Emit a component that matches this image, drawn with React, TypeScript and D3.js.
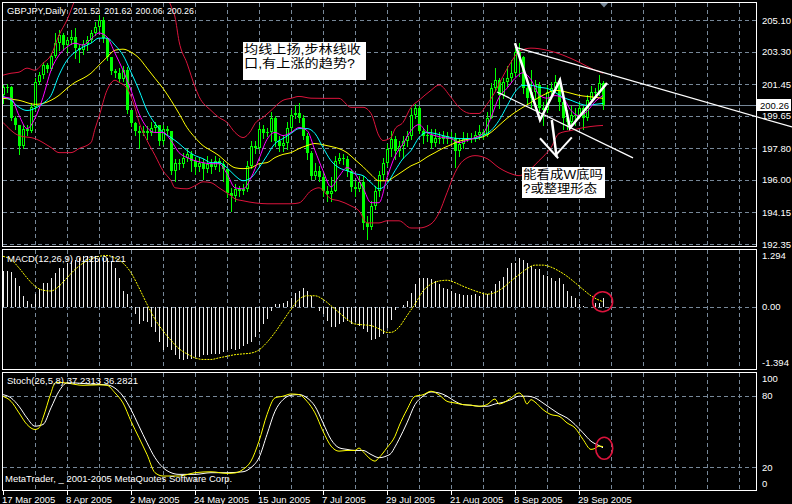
import * as d3 from "d3";

// GBPJPY daily, 17 Mar 2005 .. early Oct 2005 (one value per bar)
const symbolTitle = "GBPJPY,Daily";
const firstOpen = 200.81;
const closes = [
  201.27, 201.27, 199.5, 199.1, 197.95, 198.92, 198.81, 200.13, 201.55, 201.96,
  202.53, 202.3, 203.04, 203.78, 204.24, 203.67, 203.96, 204.13, 203.5, 203.38,
  203.73, 203.96, 204.36, 204.7, 205.1, 204.07, 202.98, 202.18, 202.07, 201.73,
  202.24, 199.95, 199.21, 198.81, 198.64, 198.81, 198.64, 198.98, 199.15, 198.24,
  198.92, 198.81, 196.52, 196.98, 196.92, 197.27, 197.5, 197.09, 196.75, 196.98,
  196.64, 196.92, 196.75, 197.09, 196.92, 196.64, 195.27, 195.09, 195.49, 195.38,
  195.49, 196.81, 197.95, 197.84, 198.92, 198.64, 198.75, 199.5, 198.24, 197.95,
  198.12, 198.98, 199.67, 199.78, 199.5, 198.52, 197.55, 196.24, 196.52, 196.18,
  195.38, 195.21, 195.38, 197.09, 197.27, 197.21, 196.52, 195.61, 195.49, 195.89,
  193.55, 193.32, 194.52, 195.38, 196.29, 196.98, 197.78, 198.35, 197.67, 197.95,
  198.24, 198.52, 199.67, 200.07, 198.81, 198.47, 198.58, 198.12, 198.41, 198.35,
  198.52, 198.35, 198.41, 197.67, 198.07, 198.35, 198.41, 198.41, 198.58, 198.75,
  198.58, 199.55, 201.21, 201.67, 200.81, 201.55, 201.78, 202.07, 203.27, 202.98,
  201.21, 200.64, 200.98, 201.38, 200.07, 199.95, 200.98, 201.21, 201.55, 200.41,
  199.5, 199.27, 199.72, 199.61, 200.07, 199.5, 200.53, 200.98, 200.98, 201.52,
  200.26,
];
const highs = [
  201.38, 201.44, 201.33, 199.61, 199.04, 199.1, 199.15, 200.35, 201.78, 202.13,
  202.7, 202.64, 203.21, 204.36, 204.53, 204.36, 204.13, 204.53, 204.64, 203.67,
  203.96, 204.19, 204.53, 204.99, 205.39, 205.27, 204.07, 202.47, 202.3, 202.36,
  202.47, 202.41, 199.95, 199.27, 199.04, 199.04, 199.04, 199.27, 199.32, 199.15,
  199.15, 199.04, 198.81, 197.21, 197.21, 197.55, 197.78, 197.67, 197.32, 197.27,
  197.21, 197.38, 197.21, 197.38, 197.27, 197.09, 196.52, 195.55, 195.78, 195.67,
  195.78, 197.09, 198.24, 198.24, 199.1, 199.1, 198.98, 199.84, 199.61, 198.47,
  198.52, 199.27, 199.95, 200.24, 200.35, 199.67, 198.64, 197.67, 196.98, 196.81,
  196.52, 195.67, 196.18, 197.38, 197.55, 197.5, 197.38, 196.64, 195.95, 196.24,
  196.24, 193.95, 194.81, 195.67, 196.52, 197.27, 198.07, 198.81, 198.52, 198.24,
  198.52, 198.81, 200.07, 200.3, 200.18, 198.92, 199.1, 198.92, 198.92, 198.7,
  198.81, 198.7, 198.7, 198.64, 198.35, 198.7, 198.64, 198.64, 198.81, 199.1,
  198.92, 199.84, 201.5, 202.36, 201.78, 201.78, 202.47, 202.81, 203.5, 203.78,
  203.04, 201.33, 202.24, 201.67, 201.55, 200.41, 201.38, 201.55, 201.96, 201.78,
  200.53, 199.95, 200.18, 200.07, 200.41, 200.18, 200.81, 201.33, 201.21, 201.96,
  201.62,
];
const lows = [
  200.35, 200.98, 199.38, 198.92, 197.5, 197.84, 198.58, 198.75, 199.95, 201.44,
  201.78, 202.13, 202.24, 202.98, 203.38, 203.38, 203.27, 203.73, 202.93, 202.7,
  203.16, 203.38, 203.84, 204.24, 204.53, 203.84, 202.81, 202.01, 201.84, 201.55,
  201.61, 199.78, 199.04, 198.58, 197.84, 198.58, 198.35, 198.58, 198.7, 198.01,
  198.07, 198.58, 196.35, 195.95, 196.64, 196.75, 197.09, 196.52, 196.35, 196.52,
  196.07, 196.47, 196.41, 196.64, 196.52, 195.95, 195.04, 194.24, 194.81, 195.09,
  195.21, 195.38, 196.69, 197.55, 197.78, 198.41, 198.52, 198.24, 197.95, 197.67,
  197.67, 197.78, 198.81, 199.5, 199.27, 198.35, 197.21, 196.07, 196.07, 195.95,
  195.09, 194.81, 194.81, 195.38, 196.98, 196.92, 196.24, 195.38, 195.09, 195.38,
  193.21, 192.63, 193.21, 194.35, 195.09, 196.07, 196.81, 197.38, 197.21, 197.38,
  197.27, 197.95, 198.35, 199.5, 198.64, 198.12, 198.24, 197.84, 197.95, 198.12,
  198.12, 198.12, 198.18, 196.75, 197.38, 197.84, 198.24, 198.18, 198.24, 198.35,
  198.35, 198.47, 199.5, 201.1, 200.07, 200.64, 201.33, 201.55, 201.96, 201.9,
  200.93, 200.35, 200.07, 200.64, 199.84, 199.1, 199.84, 200.81, 200.98, 199.95,
  198.92, 198.92, 199.04, 199.1, 199.5, 198.92, 199.38, 200.41, 200.75, 200.81,
  200.06,
];

// moving averages and Bollinger bands, sampled as [bar, price]
const maFast: [number, number][] = [
  [0, 200.71], [2, 200.64], [4, 199.67], [6, 198.92], [8, 199.5], [10, 200.7], [12, 202.24], [14, 203.1],
  [16, 203.56], [18, 203.78], [20, 203.67], [22, 204.01], [24, 204.36], [26, 204.13], [28, 203.21], [30, 202.24],
  [32, 201.1], [34, 199.78], [36, 198.98], [38, 198.7], [40, 198.7], [42, 198.24], [44, 197.55], [46, 197.27],
  [48, 197.09], [50, 196.98], [52, 196.92], [54, 196.92], [56, 196.35], [58, 195.55], [60, 195.49], [62, 196.12],
  [64, 197.2], [66, 198.3], [68, 198.7], [70, 198.52], [72, 198.7], [74, 198.98], [76, 198.81], [78, 197.67],
  [80, 196.52], [82, 195.6], [84, 196.2], [86, 196.7], [88, 196.35], [90, 195.55], [92, 194.7], [94, 194.7],
  [96, 196.12], [98, 197.35], [100, 198.05], [102, 198.81], [104, 199.15], [106, 198.7], [108, 198.52], [110, 198.41],
  [112, 198.35], [114, 198.12], [116, 198.24], [118, 198.41], [120, 198.64], [122, 199.55], [124, 200.7], [126, 201.21],
  [128, 201.78], [130, 202.1], [132, 201.7], [134, 200.85], [136, 200.65], [138, 200.8], [140, 200.65], [142, 199.95],
  [144, 199.65], [146, 199.9], [148, 200.45], [150, 200.81],
];
const maMid: [number, number][] = [
  [0, 200.75], [2, 200.53], [4, 200.13], [6, 199.95], [8, 200.07], [10, 200.35], [12, 200.81], [14, 201.96],
  [16, 202.81], [18, 203.27], [20, 203.56], [22, 203.78], [24, 204.07], [26, 204.07], [28, 203.67], [30, 203.1],
  [32, 202.13], [34, 201.1], [36, 199.95], [38, 199.21], [40, 198.7], [42, 198.41], [44, 198.07], [46, 197.67],
  [48, 197.38], [50, 197.21], [52, 196.98], [54, 196.98], [56, 196.69], [58, 196.24], [60, 195.95], [62, 196.12],
  [64, 196.69], [66, 197.38], [68, 198.07], [70, 198.35], [72, 198.64], [74, 198.92], [76, 198.92], [78, 198.64],
  [80, 197.84], [82, 197.09], [84, 196.69], [86, 196.52], [88, 196.35], [90, 196.24], [92, 195.84], [94, 195.49],
  [96, 195.78], [98, 196.52], [100, 197.21], [102, 197.67], [104, 198.41], [106, 198.7], [108, 198.64], [110, 198.52],
  [112, 198.41], [114, 198.35], [116, 198.35], [118, 198.35], [120, 198.52], [122, 198.81], [124, 199.38], [126, 200.2],
  [128, 201.0], [130, 201.38], [132, 201.38], [134, 201.27], [136, 201.21], [138, 200.98], [140, 200.7], [142, 200.53],
  [144, 200.35], [146, 200.24], [148, 200.3], [150, 200.35],
];
const maSlow: [number, number][] = [
  [0, 200.64], [4, 200.53], [8, 200.3], [10, 200.35], [12, 200.53], [14, 200.81], [16, 201.21], [18, 201.55],
  [20, 201.78], [22, 202.07], [24, 202.53], [26, 202.98], [28, 203.38], [30, 203.44], [32, 203.27], [34, 202.93],
  [36, 202.36], [38, 201.78], [40, 201.21], [42, 200.53], [44, 199.78], [46, 198.98], [48, 198.41], [50, 197.95],
  [52, 197.67], [54, 197.38], [56, 196.98], [58, 196.69], [60, 196.64], [62, 196.69], [64, 196.92], [66, 196.98],
  [68, 197.27], [70, 197.45], [72, 197.55], [74, 197.78], [76, 197.95], [78, 198.07], [80, 198.0], [82, 197.9],
  [84, 197.78], [86, 197.55], [88, 197.15], [90, 196.75], [92, 196.3], [94, 195.95], [96, 195.95], [98, 196.2],
  [100, 196.5], [102, 196.8], [104, 197.0], [106, 197.3], [108, 197.55], [110, 197.8], [112, 198.0], [114, 198.2],
  [116, 198.3], [118, 198.35], [120, 198.45], [122, 198.7], [124, 199.1], [126, 199.5], [128, 199.84], [130, 200.13],
  [132, 200.41], [134, 200.7], [136, 200.93], [138, 201.1], [140, 201.04], [142, 200.93], [144, 200.81], [146, 200.75],
  [148, 200.7], [150, 200.64],
];
const bandUpper: [number, number][] = [
  [0, 201.96], [2, 202.07], [4, 202.13], [6, 202.36], [8, 202.24], [10, 202.64], [12, 203.1], [14, 204.24],
  [16, 205.1], [18, 206.24], [20, 207.1], [24, 207.96], [28, 208.5], [32, 208.5], [36, 207.96], [40, 206.82],
  [42, 205.9], [43, 205.27], [44, 203.9], [46, 202.64], [48, 201.3], [49, 200.75], [52, 199.95], [54, 199.55],
  [56, 199.27], [58, 198.7], [60, 198.41], [62, 198.81], [63, 199.21], [65, 199.55], [67, 199.95], [70, 200.53],
  [72, 200.64], [74, 200.75], [77, 200.65], [80, 200.64], [84, 200.64], [87, 200.13], [90, 200.13], [92, 199.78],
  [94, 198.5], [95, 198.24], [97, 198.41], [98, 198.9], [100, 199.27], [102, 200.13], [104, 200.53], [107, 201.1],
  [109, 201.4], [112, 200.7], [114, 200.13], [117, 199.78], [119, 199.78], [121, 200.3], [123, 201.0], [125, 201.9],
  [127, 202.7], [129, 203.3], [132, 203.5], [136, 203.38], [140, 203.1], [144, 202.7], [148, 202.24], [150, 202.07],
];
const bandLower: [number, number][] = [
  [0, 199.27], [4, 198.52], [8, 198.35], [12, 197.84], [14, 197.55], [17, 197.55], [19, 197.78], [22, 198.12],
  [23, 198.9], [24, 199.6], [26, 201.1], [28, 201.67], [29, 201.55], [31, 201.21], [33, 200.1], [34, 199.3],
  [36, 198.24], [38, 197.4], [40, 196.52], [42, 195.95], [43, 195.55], [46, 195.49], [48, 195.67], [50, 195.89],
  [52, 195.84], [54, 195.55], [57, 195.09], [58, 194.92], [60, 194.81], [63, 194.69], [66, 194.64], [69, 194.64],
  [72, 194.64], [74, 194.69], [77, 195.38], [79, 195.55], [82, 194.92], [84, 194.81], [87, 194.52], [89, 194.24],
  [91, 193.55], [94, 193.55], [96, 193.67], [99, 193.67], [102, 193.26], [104, 193.26], [107, 193.49], [109, 194.12],
  [111, 195.27], [113, 196.41], [115, 197.09], [118, 197.38], [121, 197.21], [124, 196.69], [127, 196.35], [129, 196.24],
  [132, 196.64], [134, 197.09], [137, 197.84], [139, 198.64], [142, 198.81], [144, 198.92], [147, 199.04], [150, 199.1],
];

// MACD(12,26,9): main value per bar, signal sampled as [bar, value]
const macdMain = [
  0.89, 0.89, 0.87, 0.72, 0.51, 0.27, 0.14, 0.06, 0.31, 0.43,
  0.6, 0.6, 0.72, 0.85, 0.97, 0.97, 1.09, 1.14, 1.18, 1.22,
  1.26, 1.26, 1.26, 1.26, 1.22, 1.22, 1.22, 1.14, 0.97, 0.72,
  0.39, 0.31, 0.01, -0.19, -0.44, -0.36, -0.4, -0.52, -0.65, -0.9,
  -1.1, -1.02, -1.1, -1.23, -1.31, -1.35, -1.31, -1.31, -1.27, -1.27,
  -1.23, -1.23, -1.19, -1.19, -1.19, -1.14, -1.1, -1.06, -1.1, -1.06,
  -0.98, -0.94, -0.9, -0.77, -0.65, -0.44, -0.32, -0.11, 0.06, 0.06,
  0.1, 0.14, 0.22, 0.35, 0.39, 0.47, 0.39, 0.27, -0.02, -0.11,
  -0.19, -0.36, -0.52, -0.52, -0.44, -0.4, -0.36, -0.44, -0.4, -0.48,
  -0.56, -0.65, -0.85, -0.81, -0.77, -0.69, -0.55, -0.35, -0.1, -0.02,
  0.03, 0.14, 0.35, 0.57, 0.72, 0.72, 0.72, 0.7, 0.64, 0.56,
  0.47, 0.43, 0.39, 0.35, 0.31, 0.29, 0.29, 0.29, 0.31, 0.27,
  0.31, 0.32, 0.39, 0.56, 0.64, 0.75, 0.97, 1.09, 1.09, 1.22,
  1.18, 1.09, 1.01, 0.93, 0.93, 0.79, 0.76, 0.72, 0.64, 0.72,
  0.56, 0.39, 0.27, 0.22, 0.06, 0.02, 0.0, 0.0, 0.1, 0.1,
  0.225,
];
const macdSignal: [number, number][] = [
  [0, 1.26], [2, 1.18], [4, 0.97], [6, 0.72], [8, 0.51], [10, 0.41], [12, 0.39], [14, 0.51], [16, 0.72], [18, 0.93],
  [20, 1.09], [22, 1.2], [24, 1.26], [26, 1.28], [28, 1.22], [30, 1.09], [32, 0.85], [34, 0.47], [36, 0.06], [38, -0.32],
  [40, -0.61], [42, -0.85], [44, -1.06], [46, -1.19], [48, -1.29], [50, -1.33], [52, -1.33], [54, -1.29], [56, -1.25],
  [58, -1.21], [60, -1.19], [62, -1.17], [64, -1.09], [66, -0.9], [68, -0.65], [70, -0.36], [72, -0.07], [74, 0.18],
  [76, 0.27], [78, 0.27], [80, 0.18], [82, 0.02], [84, -0.15], [86, -0.32], [88, -0.44], [90, -0.46], [92, -0.48],
  [94, -0.56], [96, -0.65], [97, -0.65], [99, -0.52], [101, -0.23], [103, 0.06], [105, 0.39], [107, 0.56], [109, 0.64],
  [111, 0.66], [113, 0.6], [115, 0.51], [117, 0.43], [119, 0.36], [121, 0.31], [123, 0.35], [125, 0.47], [127, 0.64],
  [129, 0.8], [131, 0.95], [133, 1.04], [135, 1.04], [137, 0.99], [139, 0.89], [141, 0.76], [143, 0.6], [145, 0.43],
  [147, 0.27], [149, 0.16], [150, 0.121],
];

// Stochastic(26,5,8), sampled as [bar, value]
const stochMain: [number, number][] = [
  [0, 79.7], [2, 75.5], [4, 65.7], [6, 55.9], [8, 51.7], [9, 53.0], [10, 61.5], [12, 82.6], [13, 91.0], [14, 91.5],
  [16, 90.9], [20, 89.0], [24, 89.4], [26, 89.0], [28, 82.6], [30, 74.1], [32, 58.7], [34, 44.7], [36, 30.6], [38, 15.2],
  [40, 12.4], [44, 12.4], [48, 15.2], [52, 16.0], [56, 14.6], [58, 15.0], [60, 18.0], [62, 25.0], [64, 41.8], [66, 64.3],
  [68, 78.4], [70, 79.8], [72, 81.7], [74, 81.2], [76, 75.5], [78, 65.7], [80, 50.3], [82, 37.7], [84, 33.4], [86, 34.0],
  [88, 34.0], [89, 36.0], [90, 33.0], [92, 26.4], [93, 25.0], [94, 27.9], [96, 36.3], [98, 46.0], [99, 54.5], [101, 68.5],
  [103, 79.7], [105, 81.0], [107, 84.0], [109, 81.0], [111, 75.5], [113, 74.1], [115, 72.7], [117, 72.2], [119, 71.3],
  [121, 72.7], [123, 77.5], [124, 73.2], [125, 74.1], [127, 78.4], [129, 82.6], [130, 79.8], [131, 73.2], [132, 76.9],
  [133, 74.9], [135, 68.5], [137, 64.3], [139, 62.9], [141, 57.3], [143, 53.0], [145, 43.3], [147, 34.9], [148, 35.7],
  [149, 37.7], [150, 37.2313],
];
const stochSignal: [number, number][] = [
  [0, 81.1], [2, 78.4], [4, 71.3], [6, 61.5], [8, 54.5], [10, 55.9], [12, 70.0], [14, 84.0], [16, 91.0], [18, 91.0],
  [22, 90.0], [26, 89.4], [28, 86.6], [30, 79.8], [32, 68.5], [34, 54.5], [36, 40.5], [38, 27.9], [40, 19.5], [42, 15.2],
  [44, 13.8], [48, 13.8], [52, 15.2], [56, 15.2], [60, 16.0], [62, 19.5], [64, 27.9], [66, 47.5], [68, 67.1], [70, 76.9],
  [72, 80.6], [74, 81.2], [76, 78.4], [78, 71.3], [80, 57.3], [82, 43.3], [84, 36.3], [86, 34.9], [88, 34.0], [90, 34.0],
  [92, 30.6], [94, 27.9], [96, 29.5], [97, 31.5], [98, 37.0], [99, 43.3], [101, 57.3], [103, 72.7], [105, 79.8],
  [107, 83.4], [109, 82.6], [111, 79.8], [113, 75.5], [115, 72.7], [117, 72.2], [119, 71.3], [121, 71.3], [123, 73.2],
  [125, 74.6], [127, 76.9], [129, 79.8], [131, 79.8], [133, 78.4], [135, 74.1], [137, 69.4], [139, 64.9], [141, 61.5],
  [143, 55.9], [145, 48.9], [147, 41.8], [149, 38.1], [150, 36.2821],
];

const dateLabels = [
  "17 Mar 2005", "8 Apr 2005", "2 May 2005", "24 May 2005", "15 Jun 2005",
  "7 Jul 2005", "29 Jul 2005", "21 Aug 2005", "8 Sep 2005", "29 Sep 2005",
];
const priceTicks = [205.1, 203.3, 201.45, 199.65, 197.8, 196.0, 194.15, 192.35];
const macdTicks = [1.294, 0, -1.394];
const stochTicks = [100, 80, 20, 0];
const stochLevels = [80, 20];

// hand-drawn annotations, in [bar, price]
const trendUpper: [number, number][] = [[128, 203.56], [197.25, 199.01]];
const trendLower: [number, number][] = [[123.5, 201.0], [157.5, 197.25]];
const wPattern: [number, number][] = [[128, 203.79], [134.25, 199.41], [139.25, 201.68], [141.75, 198.95], [151, 201.51]];
const arrowStem: [number, number][] = [[137.2, 199.41], [138.4, 197.32]];
const arrowHeadL: [number, number][] = [[134.25, 198.37], [138.8, 197.23]];
const arrowHeadR: [number, number][] = [[142.2, 198.42], [138.4, 197.47]];
const note1 = ["均线上扬,步林线收", "口,有上涨的趋势?"];
const note2 = ["能看成W底吗", "?或整理形态"];

const GRID = "#778899";
const LIME = "#00ff00";
const RED = "#dc143c";
const FONT = "'Liberation Sans', Arial, sans-serif";
const CJK = "'Liberation Sans', 'Noto Sans CJK SC', sans-serif";

const LEFT = 2;
const RIGHT = 756;
const mainTop = 2, mainBottom = 246;
const macdTop = 249, macdBottom = 369;
const stochTop = 372, stochBottom = 490;

export default function App() {
  const n = closes.length;
  const x = d3.scaleLinear().domain([0, 150]).range([3, 603]);
  const yP = d3.scaleLinear().domain([192.35, 205.1]).range([244, 20]);
  const yM = d3.scaleLinear().domain([-1.394, 1.294]).range([362, 255]);
  const yS = d3.scaleLinear().domain([0, 100]).range([490.7, 372.3]);

  const candles = closes.map((c, i) => {
    const o = i === 0 ? firstOpen : closes[i - 1];
    return { i, o, c, h: Math.max(highs[i], o, c), l: Math.min(lows[i], o, c) };
  });
  const last = candles[n - 1];
  const titleValues = [last.o, last.h, last.l, last.c].map((v) => v.toFixed(2));

  const priceLine = d3.line<[number, number]>().x((d) => x(d[0])).y((d) => yP(d[1])).curve(d3.curveMonotoneX);
  const macdLine = d3.line<[number, number]>().x((d) => x(d[0])).y((d) => yM(d[1])).curve(d3.curveMonotoneX);
  const stochLine = d3.line<[number, number]>().x((d) => x(d[0])).y((d) => yS(d[1])).curve(d3.curveMonotoneX);
  const straight = d3.line<[number, number]>().x((d) => x(d[0])).y((d) => yP(d[1]));

  const gridBars = d3.range(8, 190, 8).filter((b) => x(b) < RIGHT - 4);
  const labelBars = dateLabels.map((_, k) => k * 16);

  const vGrid = (top: number, bottom: number) =>
    gridBars.map((b) => (
      <line key={b} x1={x(b) + 0.5} x2={x(b) + 0.5} y1={top + 1} y2={bottom} stroke={GRID} strokeDasharray="4 3" />
    ));

  const frame = (top: number, bottom: number) => (
    <rect x={LEFT + 0.5} y={top + 0.5} width={RIGHT - LEFT} height={bottom - top} fill="none" stroke="#fff" />
  );

  const axisText = { fill: "#fff", fontSize: 9.5, fontFamily: FONT } as const;
  const lastPrice = last.c;

  const note = (lines: string[], bx: number, by: number, bw: number, bh: number, widths: number[]) => (
    <g>
      <rect x={bx} y={by} width={bw} height={bh} fill="#fff" />
      {lines.map((s, k) => (
        <text key={k} x={bx + 1} y={by + 12 + k * 14} fontSize={12} fontFamily={CJK} fill="#000"
          textLength={widths[k]} lengthAdjust="spacingAndGlyphs">{s}</text>
      ))}
    </g>
  );

  return (
    <svg width={792} height={504} style={{ position: "fixed", left: 0, top: 0, background: "#000" }}>
      <defs>
        <clipPath id="clipMain">
          <rect x={LEFT + 1} y={mainTop + 1} width={RIGHT - LEFT - 1} height={mainBottom - mainTop - 1} />
        </clipPath>
        <clipPath id="clipStoch">
          <rect x={LEFT + 1} y={stochTop + 1} width={RIGHT - LEFT - 1} height={stochBottom - stochTop - 1} />
        </clipPath>
      </defs>
      <rect width={792} height={504} fill="#000" />

      {/* ---------- main price panel ---------- */}
      <g shapeRendering="crispEdges">
        {vGrid(mainTop, mainBottom)}
        {priceTicks.map((t) => (
          <line key={t} x1={LEFT + 1} x2={RIGHT} y1={Math.round(yP(t)) + 0.5} y2={Math.round(yP(t)) + 0.5}
            stroke={GRID} strokeDasharray="4 3" />
        ))}
        <line x1={LEFT + 1} x2={RIGHT} y1={Math.round(yP(lastPrice)) + 0.5} y2={Math.round(yP(lastPrice)) + 0.5} stroke={GRID} />
      </g>

      <g clipPath="url(#clipMain)">
        <g shapeRendering="crispEdges">
          {candles.map((d) => {
            const cx = Math.round(x(d.i));
            const top = Math.round(yP(Math.max(d.o, d.c)));
            const bot = Math.round(yP(Math.min(d.o, d.c)));
            const hgt = Math.max(1, bot - top);
            const bull = d.c >= d.o;
            return (
              <g key={d.i}>
                <line x1={cx + 0.5} x2={cx + 0.5} y1={Math.round(yP(d.h))} y2={Math.round(yP(d.l)) + 1} stroke={LIME} />
                <rect x={cx - 1} y={top} width={3} height={hgt} fill={LIME} />
                {bull && hgt > 2 && <rect x={cx} y={top + 1} width={1} height={hgt - 2} fill="#000" />}
              </g>
            );
          })}
        </g>
        <path d={priceLine(bandUpper) ?? ""} fill="none" stroke={RED} strokeWidth={1} />
        <path d={priceLine(bandLower) ?? ""} fill="none" stroke={RED} strokeWidth={1} />
        <path d={priceLine(maSlow) ?? ""} fill="none" stroke="#ffff00" strokeWidth={1} />
        <path d={priceLine(maMid) ?? ""} fill="none" stroke="#00ffff" strokeWidth={1} />
        <path d={priceLine(maFast) ?? ""} fill="none" stroke="#ff00ff" strokeWidth={1} />
      </g>

      {/* ---------- MACD panel ---------- */}
      <g shapeRendering="crispEdges">
        {vGrid(macdTop, macdBottom)}
        <line x1={LEFT + 1} x2={RIGHT} y1={Math.round(yM(0)) + 0.5} y2={Math.round(yM(0)) + 0.5} stroke={GRID} strokeDasharray="4 3" />
        {macdMain.map((v, i) => (
          <line key={i} x1={Math.round(x(i)) + 0.5} x2={Math.round(x(i)) + 0.5}
            y1={Math.round(yM(0))} y2={Math.round(yM(v))} stroke="#f0f0f0" />
        ))}
      </g>
      <path d={macdLine(macdSignal) ?? ""} fill="none" stroke="#ffff00" strokeWidth={1} strokeDasharray="2 1" />

      {/* ---------- Stochastic panel ---------- */}
      <g shapeRendering="crispEdges">
        {vGrid(stochTop, stochBottom)}
        {stochLevels.map((t) => (
          <line key={t} x1={LEFT + 1} x2={RIGHT} y1={Math.round(yS(t)) + 0.5} y2={Math.round(yS(t)) + 0.5}
            stroke={GRID} strokeDasharray="4 3" />
        ))}
      </g>
      <g clipPath="url(#clipStoch)">
        <path d={stochLine(stochSignal) ?? ""} fill="none" stroke="#ffffff" strokeWidth={1} />
        <path d={stochLine(stochMain) ?? ""} fill="none" stroke="#ffff00" strokeWidth={1} />
      </g>

      {/* ---------- frames ---------- */}
      <g shapeRendering="crispEdges">
        {frame(mainTop, mainBottom)}
        {frame(macdTop, macdBottom)}
        {frame(stochTop, stochBottom)}
      </g>
      <polygon points={`${x(149.25)},3 ${x(151.25)},3 ${x(150.25)},7.5`} fill={GRID} />

      {/* ---------- panel titles ---------- */}
      <text x={7} y={14} {...axisText} textLength={59} lengthAdjust="spacingAndGlyphs">{symbolTitle}</text>
      {titleValues.map((s, k) => (
        <text key={k} x={73 + k * 31.3} y={14} {...axisText} textLength={27} lengthAdjust="spacingAndGlyphs">{s}</text>
      ))}
      <text x={7} y={262} {...axisText}>
        {`MACD(12,26,9) ${macdMain[n - 1].toFixed(3)} ${macdSignal[macdSignal.length - 1][1].toFixed(3)}`}
      </text>
      <text x={7} y={384} {...axisText}>
        {`Stoch(26,5,8) ${stochMain[stochMain.length - 1][1].toFixed(4)} ${stochSignal[stochSignal.length - 1][1].toFixed(4)}`}
      </text>
      <text x={5} y={482} {...axisText}>MetaTrader, _ 2001-2005 MetaQuotes Software Corp.</text>

      {/* ---------- right axes ---------- */}
      {priceTicks.map((t) => (
        <text key={t} x={762} y={yP(t) + 3.5} {...axisText}>{t.toFixed(2)}</text>
      ))}
      <rect x={757} y={Math.round(yP(lastPrice)) - 6} width={34} height={12} fill="#fff" />
      <text x={760} y={yP(lastPrice) + 3.5} {...axisText} fill="#000">{lastPrice.toFixed(2)}</text>
      {macdTicks.map((t) => (
        <text key={t} x={762} y={yM(t) + 3.5} {...axisText}>{t === 0 ? "0.00" : t.toFixed(3)}</text>
      ))}
      {stochTicks.map((t) => (
        <text key={t} x={762} y={Math.min(stochBottom - 3, Math.max(stochTop + 9.5, yS(t) + 3.5))} {...axisText}>{t}</text>
      ))}

      {/* ---------- date axis ---------- */}
      {labelBars.map((b, k) => (
        <g key={b}>
          <line x1={x(b) + 0.5} x2={x(b) + 0.5} y1={stochBottom} y2={stochBottom + 5} stroke="#fff" shapeRendering="crispEdges" />
          <text x={x(b) - 1} y={503} {...axisText}>{dateLabels[k]}</text>
        </g>
      ))}

      {/* ---------- annotations ---------- */}
      <g fill="none" stroke="#fff">
        <path d={straight(trendUpper) ?? ""} strokeWidth={1.3} />
        <path d={straight(trendLower) ?? ""} strokeWidth={1.3} />
        <path d={straight(wPattern) ?? ""} strokeWidth={2.5} strokeLinejoin="miter" />
        <path d={straight(arrowStem) ?? ""} strokeWidth={2.5} />
        <path d={straight(arrowHeadL) ?? ""} strokeWidth={2} />
        <path d={straight(arrowHeadR) ?? ""} strokeWidth={2} />
      </g>
      <circle cx={x(149.9)} cy={yM(0.12)} r={10} fill="none" stroke={RED} strokeWidth={1.6} />
      <ellipse cx={x(150.3)} cy={yS(35.8)} rx={8.5} ry={11} fill="none" stroke={RED} strokeWidth={1.6} />

      {note(note1, 243, 42, 123, 38, [117, 111])}
      {note(note2, 522, 167, 83, 31, [80, 74])}
    </svg>
  );
}
